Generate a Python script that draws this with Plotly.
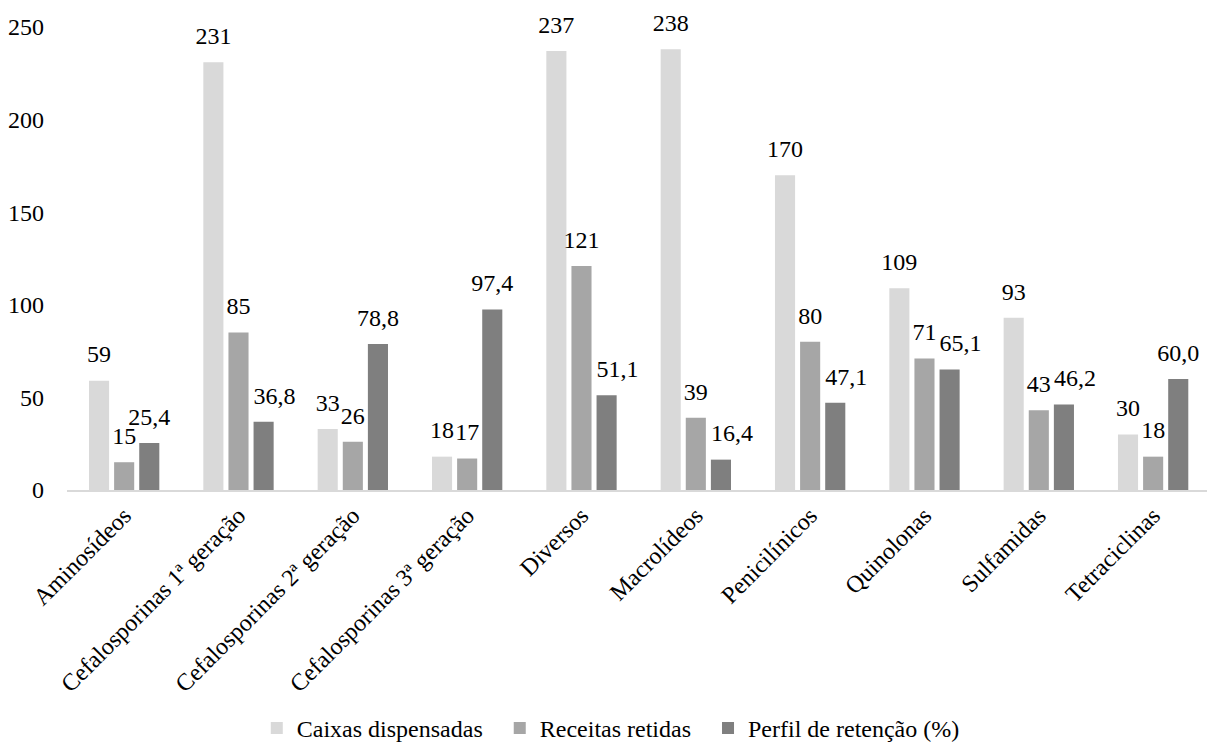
import plotly.graph_objects as go

categorias = [
    "Aminosídeos",
    "Cefalosporinas 1ª geração",
    "Cefalosporinas 2ª geração",
    "Cefalosporinas 3ª geração",
    "Diversos",
    "Macrolídeos",
    "Penicilínicos",
    "Quinolonas",
    "Sulfamidas",
    "Tetraciclinas",
]
caixas_dispensadas = [59, 231, 33, 18, 237, 238, 170, 109, 93, 30]
receitas_retidas = [15, 85, 26, 17, 121, 39, 80, 71, 43, 18]
perfil_retencao = [25.4, 36.8, 78.8, 97.4, 51.1, 16.4, 47.1, 65.1, 46.2, 60.0]

# percentage labels that sit flush with the left edge of their bar
rotulo_a_direita = [False, True, False, False, True, True, True, True, True, False]

FONT = "Liberation Serif"
FS = 24
NBSP = "\u00a0"

BARGAP = 0.341
BARGROUPGAP = 0.2
PLOT_W = 1207 - 67
PASSO = 114.33                      # pixel width of one category slot
X_RANGE = [-0.5, -0.5 + PLOT_W / PASSO]
SLOT = (1 - BARGAP) / 3             # width of one bar slot, in category units
DESLOCAMENTO = 11 / PASSO           # nudge for labels flush with the bar edge


def fmt_int(v):
    return f"{v:d}"


def fmt_pct(v):
    return f"{v:.1f}".replace(".", ",")


series = [
    ("Caixas dispensadas" + NBSP * 2, caixas_dispensadas, "#D9D9D9",
     [fmt_int(v) for v in caixas_dispensadas], [False] * len(categorias)),
    ("Receitas retidas" + NBSP * 2, receitas_retidas, "#A6A6A6",
     [fmt_int(v) for v in receitas_retidas], [False] * len(categorias)),
    ("Perfil de retenção (%)", perfil_retencao, "#7F7F7F",
     [fmt_pct(v) for v in perfil_retencao], rotulo_a_direita),
]

fig = go.Figure()
for i, (nome, valores, cor, rotulos, desloc) in enumerate(series):
    fig.add_trace(go.Bar(
        name=nome, x=categorias, y=valores,
        marker=dict(color=cor, line=dict(width=0)),
        hoverinfo="skip",
    ))

# value labels above each bar, on a hidden numeric axis that mirrors the
# category axis (category k sits at k, bar i of the group at k + (i-1)*SLOT)
for i, (nome, valores, cor, rotulos, desloc) in enumerate(series):
    xs = [k + (i - 1) * SLOT + (DESLOCAMENTO if d else 0.0)
          for k, d in enumerate(desloc)]
    fig.add_trace(go.Scatter(
        x=xs, y=valores, xaxis="x2", mode="markers+text",
        text=rotulos, textposition="top center",
        marker=dict(size=18, opacity=0),
        textfont=dict(family=FONT, size=FS, color="#000000"),
        showlegend=False, cliponaxis=False, hoverinfo="skip",
    ))

fig.update_layout(
    width=1207, height=751,
    margin=dict(l=67, r=0, t=27, b=260, pad=0),
    paper_bgcolor="white", plot_bgcolor="white",
    barmode="group", bargap=BARGAP, bargroupgap=BARGROUPGAP,
    separators=",.",
    font=dict(family=FONT, size=FS, color="#000000"),
    showlegend=True,
    legend=dict(
        orientation="h", x=0.477, xanchor="center", y=-0.468, yanchor="top",
        font=dict(family=FONT, size=FS, color="#000000"),
        traceorder="normal", itemwidth=30,
    ),
    xaxis=dict(
        type="category", tickangle=-45, range=X_RANGE,
        showline=True, linecolor="#D9D9D9", linewidth=2,
        showgrid=False, ticks="", zeroline=False,
        tickfont=dict(family=FONT, size=FS),
    ),
    xaxis2=dict(
        overlaying="x", range=X_RANGE, visible=False,
        showgrid=False, zeroline=False,
    ),
    yaxis=dict(
        range=[0, 250], tickvals=[0, 50, 100, 150, 200, 250],
        showgrid=False, zeroline=False, showline=False, ticks="",
        ticklabelstandoff=22,
        tickfont=dict(family=FONT, size=FS),
    ),
)

fig.write_html("out.html")
